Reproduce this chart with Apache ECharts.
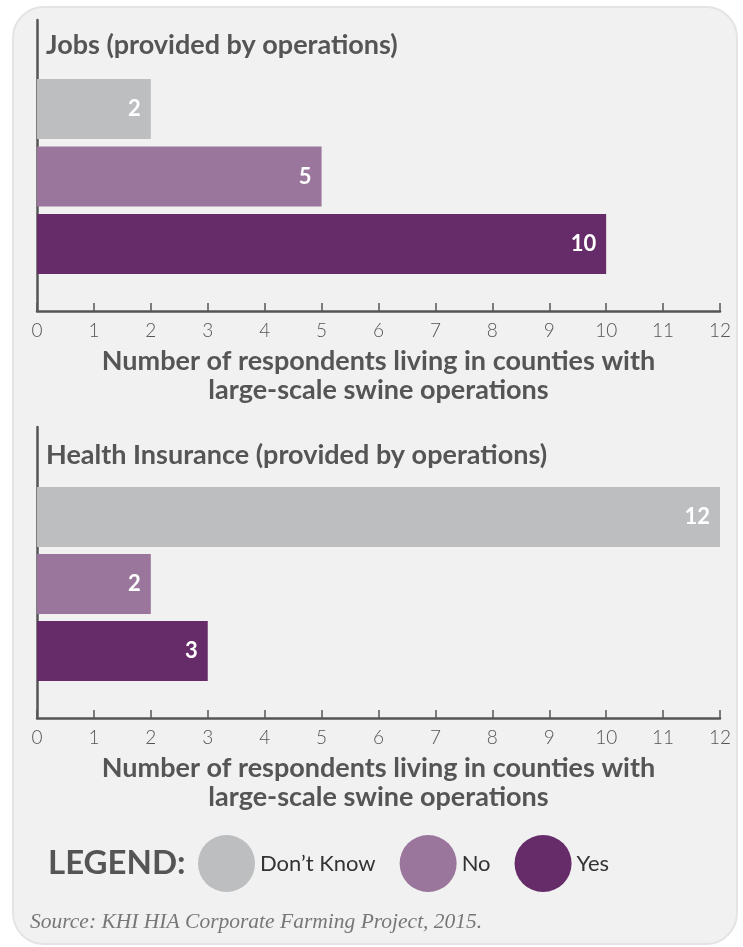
<!DOCTYPE html>
<html>
<head>
<meta charset="utf-8">
<script src="https://cdn.jsdelivr.net/npm/echarts@6/dist/echarts.min.js"></script>
<style>
  html, body { margin: 0; padding: 0; background: #ffffff; }
  #card { position: absolute; left: 12px; top: 6px; width: 722px; height: 935px;
          border: 2px solid #e4e4e4; border-radius: 32px; background: #f1f1f1; }
  #chart { position: absolute; left: 0; top: 0; width: 743px; height: 947px; }
</style>
</head>
<body>
<div id="card"></div>
<div id="chart"></div>
<script>
// ---- data ----
const categories = ["Don\u2019t Know", "No", "Yes"];
const jobsValues = [2, 5, 10];
const insuranceValues = [12, 2, 3];
const chartTitles = ["Jobs (provided by operations)", "Health Insurance (provided by operations)"];
const axisName = "Number of respondents living in counties with\nlarge-scale swine operations";
const axisMin = 0, axisMax = 12, axisStep = 1;
const legendTitle = "LEGEND:";
const sourceText = "Source: KHI HIA Corporate Farming Project, 2015.";
const colors = ["#bdbec0", "#9b769c", "#652c69"];

const FONT = "Lato, 'Noto Sans', sans-serif";
const GREY = "#555555";

function barSeries(values, gridIdx) {
  return categories.map((name, i) => ({
    name: name,
    type: 'bar',
    xAxisIndex: gridIdx,
    yAxisIndex: gridIdx,
    stack: 'g' + gridIdx,
    barWidth: 60,
    itemStyle: { color: colors[i] },
    label: {
      show: true, position: 'insideRight', distance: 10,
      color: '#ffffff', fontWeight: 'bold', fontSize: 22, fontFamily: FONT
    },
    data: values.map((v, j) => (j === i ? v : '-'))
  }));
}

const grids = [
  { left: 37, right: 23, top: 75.25, height: 202.5 },   // top bars
  { left: 37, right: 23, top: 20, height: 291 },        // top frame
  { left: 37, right: 23, top: 483.5, height: 201 },     // bottom bars
  { left: 37, right: 23, top: 427, height: 291 }        // bottom frame
];

function hiddenX(g) {
  return { type: 'value', gridIndex: g, min: axisMin, max: axisMax, show: false };
}
function frameX(g) {
  return {
    type: 'value', gridIndex: g, min: axisMin, max: axisMax, interval: axisStep,
    axisLine: { show: true, lineStyle: { color: GREY, width: 2.5 } },
    axisTick: { show: true, inside: true, length: 8, lineStyle: { color: GREY, width: 1.5 } },
    splitLine: { show: false },
    axisLabel: { color: GREY, fontSize: 19, fontFamily: FONT, fontWeight: 300, margin: 10 },
    name: axisName, nameLocation: 'middle', nameGap: 36,
    nameTextStyle: { color: GREY, fontSize: 27, fontWeight: 'bold', fontFamily: FONT, lineHeight: 29 }
  };
}
function barY(g) {
  return {
    type: 'category', gridIndex: g, data: categories, inverse: true,
    axisLine: { show: false }, axisTick: { show: false }, axisLabel: { show: false }
  };
}
function frameY(g) {
  return {
    type: 'value', gridIndex: g, min: 0, max: 1,
    axisLine: { show: true, lineStyle: { color: GREY, width: 2.5 } },
    axisTick: { show: false }, axisLabel: { show: false }, splitLine: { show: false }
  };
}

const option = {
  backgroundColor: 'transparent',
  animation: false,
  title: [
    { text: chartTitles[0], left: 41, top: 27,
      textStyle: { color: GREY, fontSize: 27, fontWeight: 'bold', fontFamily: FONT } },
    { text: chartTitles[1], left: 41, top: 437,
      textStyle: { color: GREY, fontSize: 27, fontWeight: 'bold', fontFamily: FONT } },
    { text: legendTitle, left: 43, top: 842,
      textStyle: { color: GREY, fontSize: 33, fontWeight: 'bold', fontFamily: FONT } },
    { text: sourceText, left: 25, top: 906,
      textStyle: { color: '#777777', fontSize: 21.5, fontStyle: 'italic', fontWeight: 'normal',
                   fontFamily: "'Liberation Serif', 'DejaVu Serif', serif" } }
  ],
  legend: {
    data: categories, left: 193, top: 830,
    icon: 'circle', itemWidth: 57, itemHeight: 57, itemGap: 24,
    textStyle: { color: '#333333', fontSize: 22, fontFamily: FONT }
  },
  grid: grids,
  xAxis: [hiddenX(0), frameX(1), hiddenX(2), frameX(3)],
  yAxis: [barY(0), frameY(1), barY(2), frameY(3)],
  series: [].concat(barSeries(jobsValues, 0), barSeries(insuranceValues, 2))
};

const chart = echarts.init(document.getElementById('chart'), null, { renderer: 'canvas' });
chart.setOption(option);
</script>
</body>
</html>
